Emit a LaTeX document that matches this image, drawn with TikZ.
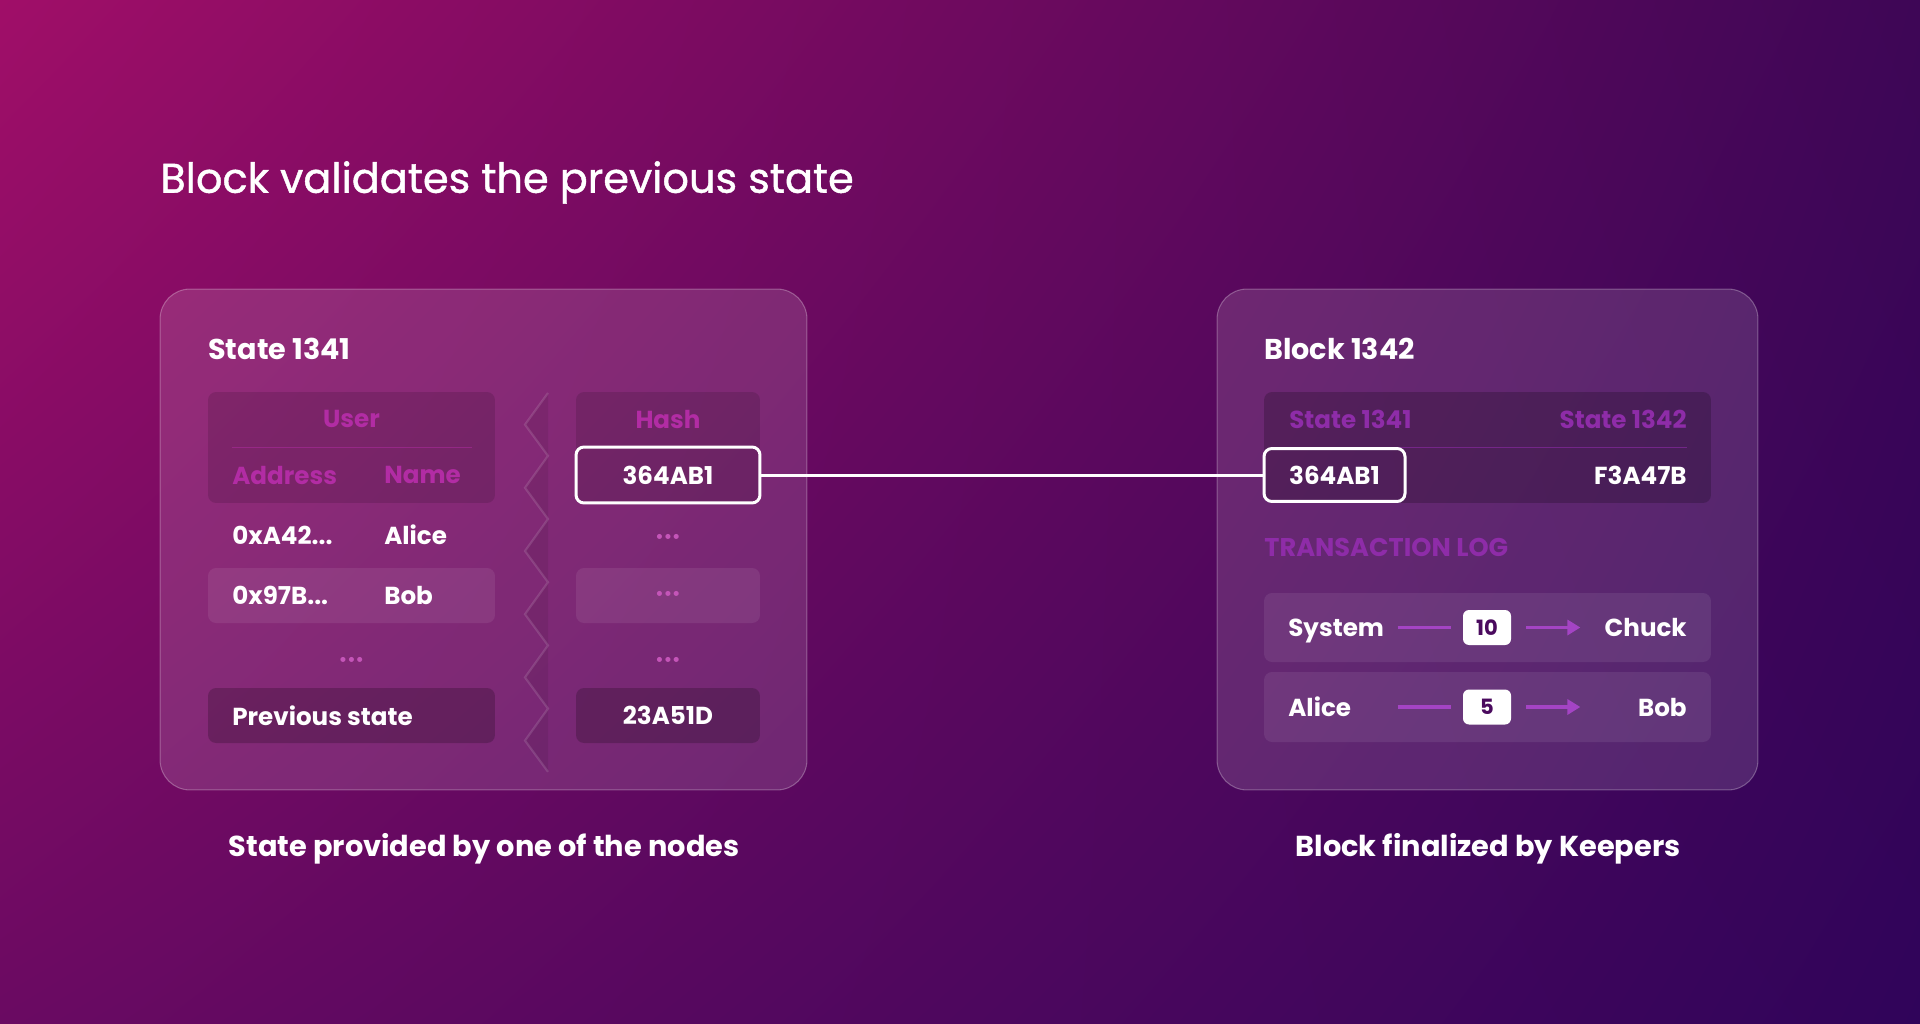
\documentclass[tikz,border=0pt]{standalone}
\usepackage{fontspec}
\setmainfont{Poppins}
\newfontface\headfont{Poppins}[FakeBold=1]
\usetikzlibrary{arrows.meta, calc, shadings}
\definecolor{bgTL}{HTML}{A00E68}
\definecolor{bgTR}{HTML}{3E0656}
\definecolor{bgBL}{HTML}{6A0A62}
\definecolor{bgBR}{HTML}{30045A}
\definecolor{headPink}{HTML}{B22CA4}
\definecolor{headPurple}{HTML}{8E2CA8}
\definecolor{dotPink}{HTML}{C455B8}
\definecolor{txLine}{HTML}{A444C4}
\definecolor{amtText}{HTML}{4A0A5E}

\begin{document}
\begin{tikzpicture}[x=0.02cm, y=-0.02cm, >={Triangle[length=0.26cm, width=0.3cm]},
  every node/.style={inner sep=0pt, text depth=0pt, text=white, font=\bfseries\fontsize{14}{16}\selectfont},
  panel/.style={draw=white, draw opacity=0.28, fill=white, fill opacity=0.13, rounded corners=0.6cm, line width=0.6pt},
  darkbox/.style={fill=black, fill opacity=0.12, rounded corners=0.16cm},
  deepbox/.style={fill=black, fill opacity=0.2, rounded corners=0.16cm},
  lightbox/.style={fill=white, fill opacity=0.08, rounded corners=0.16cm},
  hilite/.style={draw=white, line width=0.06cm, rounded corners=0.16cm},
  headtxt/.style={text=headPink},
  titletxt/.style={anchor=west, font=\bfseries\fontsize{16.3}{19}\selectfont},
  captxt/.style={font=\bfseries\fontsize{16.4}{19}\selectfont},
  dots/.style={text=dotPink, font=\bfseries\fontsize{9.5}{10}\selectfont},
  amtbox/.style={fill=white, rounded corners=0.12cm, text=amtText, minimum width=0.96cm, minimum height=0.70cm, font=\bfseries\fontsize{12}{14}\selectfont},
  txline/.style={txLine, line width=0.07cm}]
  \shade[upper left=bgTL, upper right=bgTR, lower left=bgBL, lower right=bgBR] (0,0) rectangle (1920,1024);
  \useasboundingbox (0,0) rectangle (1920,1024);

  \node[anchor=west, font=\headfont\fontsize{23.6}{28}\selectfont] (title) at (160,177) {Block validates the previous state};

  \node[panel, minimum width=12.94cm, minimum height=10.02cm] (stpanel) at (483.5,539.5) {};
  \node[panel, minimum width=10.82cm, minimum height=10.02cm] (blkpanel) at (1487.5,539.5) {};

  \node[titletxt] (sttitle) at (208,349) {State 1341};
  \node[darkbox, minimum width=5.74cm, minimum height=2.22cm] (userhead) at (351.5,447.5) {};
  \node[lightbox, minimum width=5.74cm, minimum height=1.10cm] (bobrow) at (351.5,595.5) {};
  \node[deepbox, minimum width=5.74cm, minimum height=1.10cm] (prevrow) at (351.5,715.5) {};
  \node[darkbox, minimum width=3.68cm, minimum height=2.22cm] (hashhead) at (668,447.5) {};
  \node[lightbox, minimum width=3.68cm, minimum height=1.10cm] (hashrow) at (668,595.5) {};
  \node[deepbox, minimum width=3.68cm, minimum height=1.10cm] (hashprev) at (668,715.5) {};
  \node (prevhash) at (668,715.5) {23A51D};
  \node[hilite, minimum width=3.68cm, minimum height=1.12cm] (hashA) at (668,475) {364AB1};

  \node[headtxt] (usertxt) at (351.5,419) {User};
  \draw[headPink, opacity=0.5, line width=0.6pt] ($(userhead.west)+(24,0)$) -- ($(userhead.east)+(-23,0)$);
  \node[headtxt, anchor=west] (addrtxt) at (232,475) {Address};
  \node[headtxt, anchor=west] (nametxt) at (384,475) {Name};
  \node[anchor=west] (addrA) at (232,535) {0xA42...};
  \node[anchor=west] (nameA) at (384,535) {Alice};
  \node[anchor=west] (addrB) at (232,595.5) {0x97B...};
  \node[anchor=west] (nameB) at (384,595.5) {Bob};
  \node[dots] (userdots) at (351.5,661) {•••};
  \node[anchor=west] (prevtxt) at (232,715.5) {Previous state};
  \node[headtxt] (hashtxt) at (668,419) {Hash};
  \node[dots] (hashdotsA) at (668,538) {•••};
  \node[dots] (hashdotsB) at (668,595.5) {•••};
  \node[dots] (hashdotsC) at (668,661) {•••};

  \fill[black, fill opacity=0.07] (548,393) \foreach \i in {0,...,5} { -- (525,{424.6+63.2*\i}) -- (548,{455.8+63.2*\i}) } -- cycle;
  \draw[white, opacity=0.13, line width=1.2pt] (548,393) \foreach \i in {0,...,5} { -- (525,{424.6+63.2*\i}) -- (548,{455.8+63.2*\i}) };

  \node[titletxt] (blktitle) at (1264,349) {Block 1342};
  \node[deepbox, minimum width=8.94cm, minimum height=2.22cm] (blkhead) at (1487.5,447.5) {};
  \node[text=headPurple, anchor=west] (oldtxt) at (1289,419) {State 1341};
  \node[text=headPurple, anchor=east] (newtxt) at (1687,419) {State 1342};
  \draw[headPurple, opacity=0.6, line width=0.6pt] ($(blkhead.west)+(25,0)$) -- ($(blkhead.east)+(-24,0)$);
  \node[hilite, minimum width=2.82cm, minimum height=1.06cm] (hashB) at (1334.5,475) {364AB1};
  \node[anchor=east] (hashnew) at (1687,475) {F3A47B};
  \node[text=headPurple, anchor=west, font=\bfseries\fontsize{14.6}{17}\selectfont] (logtxt) at (1264,547) {TRANSACTION LOG};

  \node[lightbox, minimum width=8.94cm, minimum height=1.38cm] (txone) at (1487.5,627.5) {};
  \node[lightbox, minimum width=8.94cm, minimum height=1.40cm] (txtwo) at (1487.5,707) {};
  \node[anchor=west] (fromA) at (1288,627.5) {System};
  \node[amtbox] (amtA) at (1487,627.5) {10};
  \node[anchor=east] (toA) at (1687,627.5) {Chuck};
  \node[anchor=west] (fromB) at (1288,707) {Alice};
  \node[amtbox] (amtB) at (1487,707) {5};
  \node[anchor=east] (toB) at (1687,707) {Bob};
  \draw[txline] ($(amtA.west)+(-65,0)$) -- ($(amtA.west)+(-12,0)$);
  \draw[txline, ->] ($(amtA.east)+(15,0)$) -- ($(amtA.east)+(69,0)$);
  \draw[txline] ($(amtB.west)+(-65,0)$) -- ($(amtB.west)+(-12,0)$);
  \draw[txline, ->] ($(amtB.east)+(15,0)$) -- ($(amtB.east)+(69,0)$);

  \draw[white, line width=0.06cm] (hashA.east) -- (hashB.west);

  \node[captxt] (stcap) at (484,845) {State provided by one of the nodes};
  \node[captxt] (blkcap) at (1488,845) {Block finalized by Keepers};
\end{tikzpicture}
\end{document}
